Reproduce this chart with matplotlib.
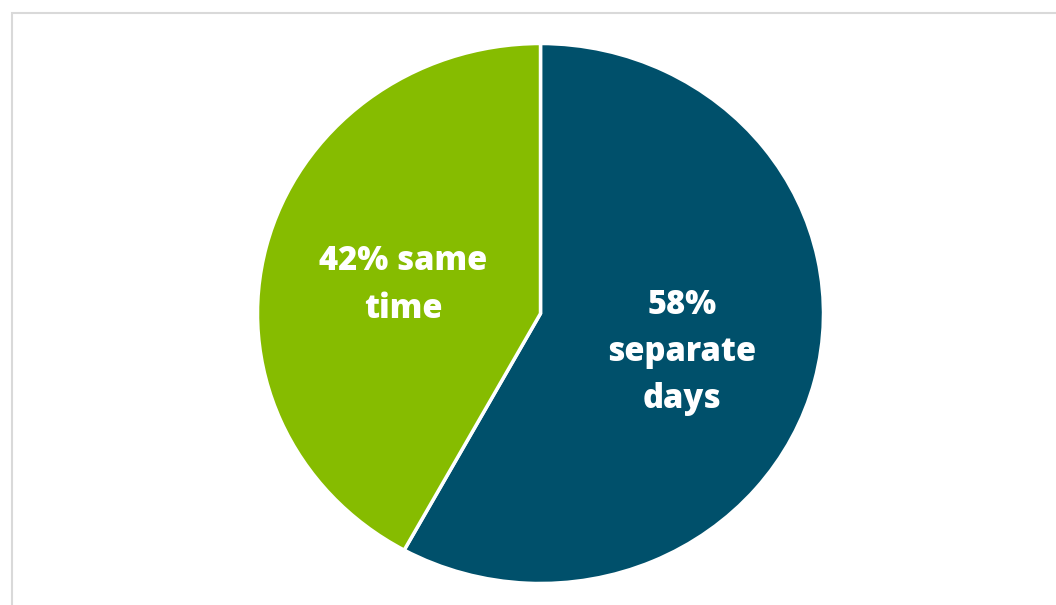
import matplotlib
matplotlib.use("Agg")
import matplotlib.pyplot as plt
from matplotlib.patches import Rectangle

categories = ["separate days", "same time"]
values = [58, 42]
labels = ["58%\nseparate\ndays", "42% same\ntime"]
colors = ["#00506b", "#86bc00"]

W, H = 1056, 605
fig = plt.figure(figsize=(W / 100, H / 100), dpi=100)
ax = fig.add_axes([0, 0, 1, 1])

cx, cy, rx, ry = 540.5, 313.5, 283, 270
wedges, _ = ax.pie(values, colors=colors, startangle=90, counterclock=False,
                   radius=1, center=(0, 0),
                   wedgeprops=dict(edgecolor="white", linewidth=2.5))
ax.set_aspect("auto")
ax.set_xlim(-cx / rx, (W - cx) / rx)
ax.set_ylim(-(H - cy) / ry, cy / ry)
ax.axis("off")

label_pos = [(682, 352), (403, 285)]
for lab, (px, py) in zip(labels, label_pos):
    ax.text((px - cx) / rx, (cy - py) / ry, lab, ha="center", va="center",
            color="white", fontsize=23.5, fontweight="heavy", family="Open Sans",
            linespacing=1.5)

fig.add_artist(Rectangle((11.5 / W, -0.1), 1.2, (H - 12.5) / H + 0.1,
                         transform=fig.transFigure, fill=False,
                         edgecolor="#d9d9d9", linewidth=1.5))

fig.savefig("out.png", dpi=100, facecolor="white")
